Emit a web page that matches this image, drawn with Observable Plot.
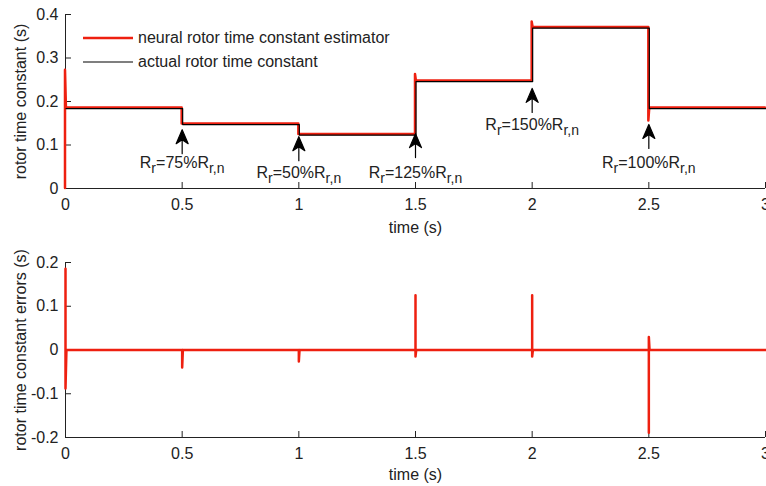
<!DOCTYPE html>
<html>
<head>
<meta charset="utf-8">
<script src="https://cdn.jsdelivr.net/npm/d3@7"></script>
<script src="https://cdn.jsdelivr.net/npm/@observablehq/plot@0.6"></script>
<style>
  html, body { margin: 0; padding: 0; background: white; }
  #chart { width: 766px; }
</style>
</head>
<body>
<div id="chart"></div>
<script>
// ---- data ----
const xTicks = [0, 0.5, 1, 1.5, 2, 2.5, 3];
const topYTicks = [0, 0.1, 0.2, 0.3, 0.4];
const botYTicks = [-0.2, -0.1, 0, 0.1, 0.2];

// actual rotor time constant (step values, held until next time)
const stepT = [0, 0.5, 1, 1.5, 2, 2.5, 3];
const actualV = [0.185, 0.148, 0.124, 0.247, 0.37, 0.185, 0.185];

// neural estimator
const estT = [0, 0, 0.004, 0.5, 0.5, 1, 1, 1.5, 1.5, 1.504, 2, 2, 2.004, 2.5, 2.5, 2.504, 3];
const estV = [0, 0.272, 0.185, 0.185, 0.148, 0.148, 0.124, 0.124, 0.262, 0.247, 0.247, 0.383, 0.37, 0.37, 0.155, 0.185, 0.185];

// estimation error
const errT = [0, 0, 0.004, 0.5, 0.5, 0.503, 1, 1, 1.003, 1.5, 1.5, 1.5, 1.503, 2, 2, 2, 2.003, 2.5, 2.5, 2.5, 2.503, 3];
const errV = [0.186, -0.088, 0, 0, -0.04, 0, 0, -0.026, 0, 0, 0.125, -0.015, 0, 0, 0.125, -0.015, 0, 0, -0.189, 0.03, 0, 0];

// annotations
const annT = [0.5, 1, 1.5, 2, 2.5];
const annPct = ["75%", "50%", "125%", "150%", "100%"];
const annTail = [0.080, 0.064, 0.071, 0.175, 0.092];
const annLabelY = [0.059, 0.037, 0.035, 0.146, 0.058];

// ---- build tables ----
const actual = stepT.map((t, i) => ({t, v: actualV[i]}));
const est = estT.map((t, i) => ({t, v: estV[i]}));
const err = errT.map((t, i) => ({t, v: errV[i]}));
const anns = annT.map((t, i) => ({t, tail: annTail[i], ly: annLabelY[i], label: "R_{r}=" + annPct[i] + "R_{r,n}"}));

const RED = "#ee2010";
const AX = "#222";
const fmt = d => String(d);
const style = {fontSize: "16px", fontFamily: "'Liberation Sans', Arial, sans-serif", color: AX, background: "white"};

const arrowShape = {
  draw(context, l) {
    context.moveTo(0, 0);
    context.lineTo(0, -l + 9);
    context.moveTo(0, -l);
    context.lineTo(-6, -l + 14);
    context.lineTo(0, -l + 10);
    context.lineTo(6, -l + 14);
    context.closePath();
  }
};

const topChart = Plot.plot({
  width: 766, height: 243,
  marginLeft: 65, marginRight: 1, marginTop: 14, marginBottom: 55,
  x: {domain: [0, 3]},
  y: {domain: [0, 0.4]},
  style,
  marks: [
    Plot.ruleX([0], {stroke: AX}),
    Plot.ruleY([0], {stroke: AX}),
    Plot.axisX({ticks: xTicks, tickSize: -6, tickPadding: 16, tickFormat: fmt, label: null, stroke: AX}),
    Plot.axisY({ticks: topYTicks, tickSize: -6, tickPadding: 13, tickFormat: fmt, label: null, stroke: AX}),
    Plot.line(est, {x: "t", y: "v", stroke: RED, strokeWidth: 2.5, dx: -0.5, dy: -0.5}),
    Plot.line(actual, {x: "t", y: "v", curve: "step-after", stroke: "black", strokeWidth: 1.2, dx: 0.5, dy: 0.5}),
    Plot.vector(anns, {x: "t", y: "tail", length: 24, rotate: 0, anchor: "start", shape: arrowShape, stroke: "black", fill: "black", strokeWidth: 1.2}),
    Plot.text(anns, {x: "t", y: "ly", text: "label", fill: AX}),
    Plot.text(["time (s)"], {frameAnchor: "bottom", lineAnchor: "middle", dy: 39, fill: AX}),
    Plot.text(["rotor time constant (s)"], {frameAnchor: "left", textAnchor: "middle", rotate: -90, dx: -45, fill: AX})
  ]
});

const botChart = Plot.plot({
  width: 766, height: 243,
  marginLeft: 65, marginRight: 1, marginTop: 19, marginBottom: 49,
  x: {domain: [0, 3]},
  y: {domain: [-0.2, 0.2]},
  style,
  marks: [
    Plot.ruleX([0], {stroke: AX}),
    Plot.ruleY([-0.2], {stroke: AX}),
    Plot.axisX({ticks: xTicks, tickSize: -6, tickPadding: 16, tickFormat: fmt, label: null, stroke: AX}),
    Plot.axisY({ticks: botYTicks, tickSize: -6, tickPadding: 13, tickFormat: fmt, label: null, stroke: AX}),
    Plot.line(err, {x: "t", y: "v", stroke: RED, strokeWidth: 2.5}),
    Plot.text(["time (s)"], {frameAnchor: "bottom", lineAnchor: "middle", dy: 37, fill: AX}),
    Plot.text(["rotor time constant errors (s)"], {frameAnchor: "left", textAnchor: "middle", rotate: -90, dx: -45, fill: AX})
  ]
});

// subscripts
function subscriptify(svg) {
  d3.select(svg).selectAll("text").each(function() {
    const t = this.textContent;
    if (!t.includes("_{")) return;
    const el = d3.select(this);
    el.text(null);
    const parts = t.split(/(_\{[^}]*\})/);
    let shifted = false;
    parts.forEach(p => {
      if (!p) return;
      if (p.startsWith("_{")) {
        el.append("tspan").attr("dy", 5).attr("font-size", 14).text(p.slice(2, -1));
        shifted = true;
      } else {
        const ts = el.append("tspan").text(p);
        if (shifted) { ts.attr("dy", -5); shifted = false; }
      }
    });
  });
}
subscriptify(topChart);

// legend (inside the top axes)
const lg = d3.select(topChart).append("g").attr("font-size", 16).attr("fill", AX).attr("text-anchor", "start");
const legendItems = [
  {label: "neural rotor time constant estimator", color: RED, w: 2.5, y: 38},
  {label: "actual rotor time constant", color: "black", w: 1.2, y: 62}
];
legendItems.forEach(d => {
  lg.append("line").attr("x1", 83).attr("x2", 133).attr("y1", d.y).attr("y2", d.y)
    .attr("stroke", d.color).attr("stroke-width", d.w);
  lg.append("text").attr("x", 138).attr("y", d.y).attr("dy", "0.32em").text(d.label);
});

document.getElementById("chart").append(topChart, botChart);
</script>
</body>
</html>
